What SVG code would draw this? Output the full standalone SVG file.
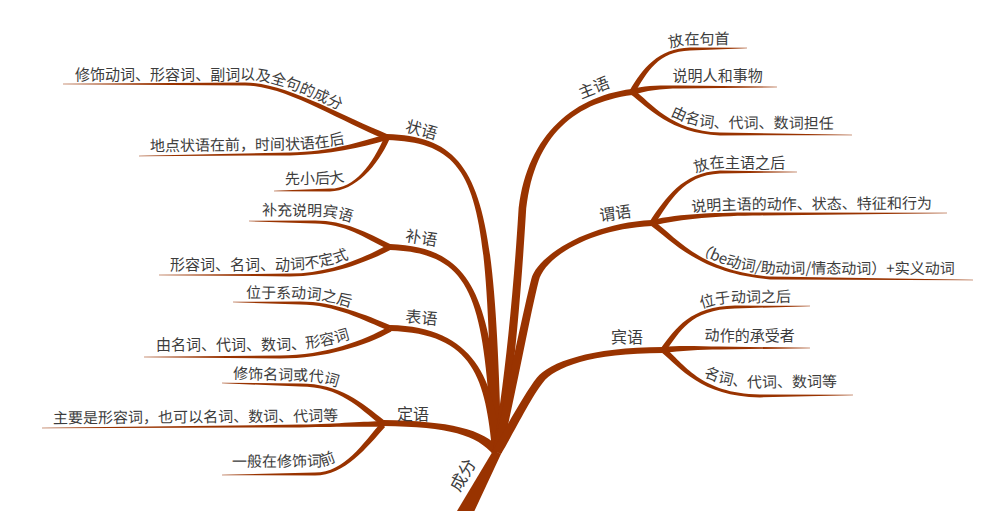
<svg xmlns="http://www.w3.org/2000/svg" width="1000" height="511" viewBox="0 0 1000 511">
<style>
.br{fill:#993300;stroke:none}
.t{font-family:"Noto Sans CJK SC","Noto Sans",sans-serif;font-size:15px;fill:#3c3c3c}
.lb{font-family:"Noto Sans CJK SC","Noto Sans",sans-serif;font-size:16px;fill:#3c3c3c;text-anchor:middle}
</style>
<defs>
<path id="t1" d="M63,79.5 L245,79.5 C287,79.5 342,113.5 389,132.5"/>
<path id="t2" d="M139,151.5 L290,149.5 C330,148.5 359,140.5 386,132.5"/>
<path id="t3" d="M274,184.5 L330,183.5 C352,183.5 371,162 383,136"/>
<path id="t4" d="M249,215 L315,216 C347,216 367,229 392,241"/>
<path id="t5" d="M159,269.5 L290,269.5 C328,269.5 362,255 388,242"/>
<path id="t6" d="M233,297.5 L300,298.5 C337,298.5 367,314 392,324"/>
<path id="t7" d="M144,350 L280,350 C323,350 362,337 387,323"/>
<path id="t8" d="M222,378.5 L300,380.5 C342,380.5 363,401 386,419.5"/>
<path id="t9" d="M42,423.5 L300,421.5 L383,419.5"/>
<path id="t10" d="M222,467 L315,466.5 C341,466.5 361,440 380,420"/>
<path id="r1" d="M628,89.7 C641,67.7 658,45.5 690,44.5 L800,43.5"/>
<path id="r2" d="M631,86 C644,82 660,81 680,81 L800,81"/>
<path id="r3" d="M634.6,88.4 C652.6,101.4 670,126 720,128 L870,129"/>
<path id="r4" d="M648.3,220.4 C664.3,197.4 682,169.5 720,167.5 L820,167.5"/>
<path id="r5" d="M651.3,218.6 C679.3,211.6 720,209.5 760,209.5 L960,208.5"/>
<path id="r6" d="M654.7,219.4 C677.7,236.4 700,267.5 770,273.5 L995,274"/>
<path id="r7" d="M659.4,347.3 C674.4,327.3 690,303.5 735,302.5 L830,301.5"/>
<path id="r8" d="M662.7,342 C679.7,340.5 700,340.5 720,340.5 L830,340.5"/>
<path id="r9" d="M665.8,346.5 C684.8,361.5 700,387.5 760,387.5 L870,386.5"/>
</defs>
<g id="connectors">
<path class="br" d="M451,521 L493.5,450 L501,454 L466,529 Z"/>
<path class="br" d="M501.5,452 C494.5,200 485,137 387,134 L387,140 C485,143 485.5,200 492.5,452 Z"/>
<path class="br" d="M501.5,451.7 C492.5,299.7 475.1,247 390.1,244 L389.9,250 C474.9,253 483.5,300.3 492.5,452.3 Z"/>
<path class="br" d="M501.5,451.6 C494.5,379.6 475.1,327 390.1,325 L389.9,331 C474.9,333 485.5,380.4 492.5,452.4 Z"/>
<path class="br" d="M500.4,449.1 C483.4,429.1 450,421 383,420 L383,426 C450,427 476.6,434.9 493.6,454.9 Z"/>
<path class="br" d="M501.4,452.8 C514.4,380.8 521.8,280.3 525.8,215.3 C531.8,140.3 570.4,103 632.4,95 L631.6,89 C569.6,97 524.2,139.7 518.2,214.7 C514.2,279.7 505.6,379.2 492.6,451.2 Z"/>
<path class="br" d="M501.4,453.1 C514.4,401.1 528.7,320.9 538.7,280.9 C544.7,256.9 590.1,229 652.1,226 L651.9,220 C589.9,223 537.3,255.1 531.3,279.1 C521.3,319.1 505.6,398.9 492.6,450.9 Z"/>
<path class="br" d="M500.9,454.3 C513.9,432.3 531,397.4 543,382.4 C555,367.4 590,353 663,353 L663,347 C590,347 549,362.6 537,377.6 C525,392.6 506.1,427.7 493.1,449.7 Z"/>
<path class="br" d="M634.4,93.4 C647.4,71.4 658,51.4 690,50.4 L747,48.3 L747,47.7 L690,47.6 C658,48.6 642.6,68.6 629.6,90.6 Z"/>
<path class="br" d="M632.8,94.7 C645.8,90.7 660,88.4 680,88.4 L777,87.3 L777,86.7 L680,85.6 C660,85.6 644.2,85.3 631.2,89.3 Z"/>
<path class="br" d="M630.4,94.3 C648.4,107.3 670,133.4 720,135.4 L852,135.3 L852,134.7 L720,132.6 C670,130.6 651.6,102.7 633.6,89.7 Z"/>
<path class="br" d="M654.3,224.6 C670.3,201.6 682,175.4 720,173.4 L797,172.3 L797,171.7 L720,170.6 C682,172.6 665.7,198.4 649.7,221.4 Z"/>
<path class="br" d="M652.7,225.7 C680.7,218.7 720,215.4 760,215.4 L947,213.3 L947,212.7 L760,212.6 C720,212.6 679.3,213.3 651.3,220.3 Z"/>
<path class="br" d="M650.3,225.3 C673.3,242.3 700,273.4 770,279.4 L973,280.3 L973,279.7 L770,276.6 C700,270.6 676.7,237.8 653.7,220.8 Z"/>
<path class="br" d="M665.2,351.7 C680.2,331.7 690,309.4 735,308.4 L810,306.3 L810,305.7 L735,305.6 C690,306.6 675.8,328.3 660.8,348.3 Z"/>
<path class="br" d="M663.3,352.8 C680.3,350.8 700,349.4 720,349.4 L810,348.3 L810,347.7 L720,346.6 C700,346.6 679.7,345.2 662.7,347.2 Z"/>
<path class="br" d="M661.3,352.2 C680.3,367.2 700,396.4 760,397.4 L853,395.3 L853,394.7 L760,394.6 C700,393.6 683.7,362.8 664.7,347.8 Z"/>
<path class="br" d="M388,134.4 C341,115.4 285,82.6 245,82.6 L63,83.7 L63,84.3 L245,85.4 C285,85.4 339,120.6 386,139.6 Z"/>
<path class="br" d="M386.2,134.3 C359.2,142.3 330,151.6 290,152.6 L139,155.7 L139,156.3 L290,155.4 C330,154.4 360.8,147.7 387.8,139.7 Z"/>
<path class="br" d="M384.4,136.9 C372.4,163.9 355,188.6 330,188.6 L274,190.7 L274,191.3 L330,191.4 C355,191.4 377.6,166.1 389.6,139.1 Z"/>
<path class="br" d="M391.2,244.5 C366.2,232.5 345,220.6 315,220.6 L249,220.7 L249,221.3 L315,223.4 C345,223.4 363.8,237.5 388.8,249.5 Z"/>
<path class="br" d="M388.7,244.5 C363.7,257.5 330,273.6 290,273.6 L159,274.7 L159,275.3 L290,276.4 C330,276.4 366.3,262.5 391.3,249.5 Z"/>
<path class="br" d="M391,325.4 C366,315.4 335,301.6 300,301.6 L233,301.7 L233,302.3 L300,304.4 C335,304.4 364,320.6 389,330.6 Z"/>
<path class="br" d="M388.6,326.6 C363.6,340.6 325,355.6 280,355.6 L144,356.7 L144,357.3 L280,358.4 C325,358.4 366.4,345.4 391.4,331.4 Z"/>
<path class="br" d="M384.7,420.8 C361.7,402.8 340,383.6 300,383.6 L222,382.7 L222,383.3 L300,386.4 C340,386.4 358.3,407.2 381.3,425.2 Z"/>
<path class="br" d="M383,421.2 C365,421.2 340,423.6 300,424.6 L42,427.7 L42,428.3 L300,427.4 C340,426.4 365,426.8 383,426.8 Z"/>
<path class="br" d="M380.9,423.1 C362.9,443.1 345,472.6 315,472.6 L222,474.7 L222,475.3 L315,475.4 C345,475.4 367.1,446.9 385.1,426.9 Z"/>
</g>
<g id="node-root"><text class="lb" style="font-size:17px" x="468" y="478" transform="rotate(-60 468 478)">成分</text></g>
<g id="node-zhuyu"><text class="lb" x="596" y="93" transform="rotate(-22 596 93)">主语</text></g>
<g id="node-weiyu"><text class="lb" x="616" y="219" transform="rotate(-8 616 219)">谓语</text></g>
<g id="node-binyu"><text class="lb" x="627" y="343">宾语</text></g>
<g id="node-zhuangyu"><text class="lb" x="420" y="135.5" transform="rotate(15 420 135.5)">状语</text></g>
<g id="node-buyu"><text class="lb" x="420.5" y="243.5" transform="rotate(9 420.5 243.5)">补语</text></g>
<g id="node-biaoyu"><text class="lb" x="421" y="323.5" transform="rotate(5 421 323.5)">表语</text></g>
<g id="node-dingyu"><text class="lb" x="413" y="420">定语</text></g>
<g id="leaf-zhuang-1"><text class="t"><textPath href="#t1" startOffset="12">修饰动词、形容词、副词以及全句的成分</textPath></text></g>
<g id="leaf-zhuang-2"><text class="t"><textPath href="#t2" startOffset="11">地点状语在前，时间状语在后</textPath></text></g>
<g id="leaf-zhuang-3"><text class="t"><textPath href="#t3" startOffset="11">先小后大</textPath></text></g>
<g id="leaf-bu-1"><text class="t"><textPath href="#t4" startOffset="13">补充说明宾语</textPath></text></g>
<g id="leaf-bu-2"><text class="t"><textPath href="#t5" startOffset="11">形容词、名词、动词不定式</textPath></text></g>
<g id="leaf-biao-1"><text class="t"><textPath href="#t6" startOffset="13">位于系动词之后</textPath></text></g>
<g id="leaf-biao-2"><text class="t"><textPath href="#t7" startOffset="12">由名词、代词、数词、形容词</textPath></text></g>
<g id="leaf-ding-1"><text class="t"><textPath href="#t8" startOffset="11">修饰名词或代词</textPath></text></g>
<g id="leaf-ding-2"><text class="t"><textPath href="#t9" startOffset="11">主要是形容词，也可以名词、数词、代词等</textPath></text></g>
<g id="leaf-ding-3"><text class="t"><textPath href="#t10" startOffset="10">一般在修饰词前</textPath></text></g>
<g id="leaf-zhu-1"><text class="t"><textPath href="#r1" startOffset="60">放在句首</textPath></text></g>
<g id="leaf-zhu-2"><text class="t"><textPath href="#r2" startOffset="42">说明人和事物</textPath></text></g>
<g id="leaf-zhu-3"><text class="t"><textPath href="#r3" startOffset="45">由名词、代词、数词担任</textPath></text></g>
<g id="leaf-wei-1"><text class="t"><textPath href="#r4" startOffset="68">放在主语之后</textPath></text></g>
<g id="leaf-wei-2"><text class="t"><textPath href="#r5" startOffset="41">说明主语的动作、状态、特征和行为</textPath></text></g>
<g id="leaf-wei-3"><text class="t"><textPath href="#r6" startOffset="52">（be动词/助动词/情态动词）+实义动词</textPath></text></g>
<g id="leaf-bin-1"><text class="t"><textPath href="#r7" startOffset="58">位于动词之后</textPath></text></g>
<g id="leaf-bin-2"><text class="t"><textPath href="#r8" startOffset="42">动作的承受者</textPath></text></g>
<g id="leaf-bin-3"><text class="t"><textPath href="#r9" startOffset="48">名词、代词、数词等</textPath></text></g>
</svg>
